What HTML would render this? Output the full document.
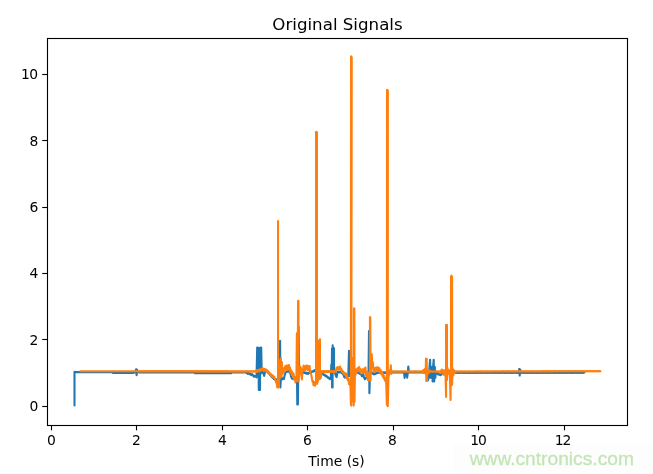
<!DOCTYPE html>
<html lang="en">
<head>
<meta charset="utf-8">
<title>Original Signals</title>
<style>
html,body{margin:0;padding:0;background:#fff;}
body{width:653px;height:474px;overflow:hidden;}
svg{display:block;}
text{font-family:"DejaVu Sans","Liberation Sans",sans-serif;fill:#000;}
.tick{font-size:13.89px;}
.title{font-size:16.67px;}
.wm{font-family:"Liberation Sans",Arial,sans-serif;font-size:19.2px;fill:#c3e5b6;stroke:#c3e5b6;stroke-width:0.3;}
.ax{stroke:#000;stroke-width:1.11;fill:none;}
.sig{fill:none;stroke-width:2.08;stroke-linejoin:round;stroke-linecap:round;}
</style>
</head>
<body>
<svg width="653" height="474" viewBox="0 0 653 474">
<rect x="0" y="0" width="653" height="474" fill="#ffffff"/>
<rect x="453.5" y="444.5" width="199.5" height="29.5" fill="#fdfdfd"/>

<g>
<path class="sig" stroke="#1f77b4" d="M74.50,405.40 L74.50,371.90 L75.25,372.00 L76.00,372.10 L76.60,372.10 L77.20,372.10 L77.80,372.10 L78.40,372.10 L79.00,372.10 L79.60,372.10 L80.20,372.10 L80.80,372.10 L81.40,372.10 L82.00,372.10 L82.60,372.10 L83.20,372.10 L83.80,372.10 L84.40,372.10 L85.00,372.10 L85.60,372.10 L86.20,372.10 L86.80,372.10 L87.40,372.10 L88.00,372.10 L88.60,372.10 L89.20,372.10 L89.80,372.10 L90.40,372.10 L91.00,372.10 L91.60,372.10 L92.20,372.10 L92.80,372.10 L93.40,372.10 L94.00,372.10 L94.60,372.10 L95.20,372.10 L95.80,372.10 L96.40,372.10 L97.00,372.10 L97.60,372.10 L98.20,372.10 L98.80,372.10 L99.40,372.10 L100.00,372.10 L100.60,372.10 L101.20,372.10 L101.80,372.10 L102.40,372.10 L103.00,372.10 L103.60,372.10 L104.20,372.10 L104.80,372.10 L105.40,372.10 L106.00,372.10 L106.60,372.10 L107.20,372.10 L107.80,372.10 L108.40,372.10 L109.00,372.10 L109.60,372.10 L110.20,372.10 L110.80,372.10 L111.40,372.10 L112.00,372.10 L112.50,372.50 L113.00,372.90 L113.61,372.90 L114.21,372.90 L114.82,372.90 L115.42,372.90 L116.03,372.90 L116.64,372.90 L117.24,372.90 L117.85,372.90 L118.45,372.90 L119.06,372.90 L119.67,372.90 L120.27,372.90 L120.88,372.90 L121.48,372.90 L122.09,372.90 L122.70,372.90 L123.30,372.90 L123.91,372.90 L124.52,372.90 L125.12,372.90 L125.73,372.90 L126.33,372.90 L126.94,372.90 L127.55,372.90 L128.15,372.90 L128.76,372.90 L129.36,372.90 L129.97,372.90 L130.58,372.90 L131.18,372.90 L131.79,372.90 L132.39,372.90 L133.00,372.90 L133.60,372.75 L134.20,372.60 L134.80,372.45 L135.40,372.30 L136.10,369.30 L136.60,375.20 L137.10,369.80 L137.70,372.20 L138.30,371.95 L138.90,372.45 L139.50,371.95 L140.10,372.45 L140.69,371.94 L141.29,372.44 L141.89,371.94 L142.49,372.44 L143.09,371.94 L143.69,372.44 L144.29,371.94 L144.89,372.44 L145.49,371.94 L146.09,372.44 L146.68,371.93 L147.28,372.43 L147.88,371.93 L148.48,372.43 L149.08,371.93 L149.68,372.43 L150.28,371.93 L150.88,372.43 L151.48,371.93 L152.07,372.42 L152.67,371.92 L153.27,372.42 L153.87,371.92 L154.47,372.42 L155.07,371.92 L155.67,372.42 L156.27,371.92 L156.87,372.42 L157.46,371.91 L158.06,372.41 L158.66,371.91 L159.26,372.41 L159.86,371.91 L160.46,372.41 L161.06,371.91 L161.66,372.41 L162.26,371.91 L162.86,372.41 L163.45,371.90 L164.05,372.40 L164.65,371.90 L165.25,372.40 L165.85,371.90 L166.45,372.40 L167.05,371.90 L167.65,372.40 L168.25,371.90 L168.84,372.39 L169.44,371.89 L170.04,372.39 L170.64,371.89 L171.24,372.39 L171.84,371.89 L172.44,372.39 L173.04,371.89 L173.64,372.39 L174.24,371.89 L174.83,372.38 L175.43,371.88 L176.03,372.38 L176.63,371.88 L177.23,372.38 L177.83,371.88 L178.43,372.38 L179.03,371.88 L179.63,372.38 L180.22,371.87 L180.82,372.37 L181.42,371.87 L182.02,372.37 L182.62,371.87 L183.22,372.37 L183.82,371.87 L184.42,372.37 L185.02,371.87 L185.61,372.36 L186.21,371.86 L186.81,372.36 L187.41,371.86 L188.01,372.36 L188.61,371.86 L189.21,372.36 L189.81,371.86 L190.41,372.36 L191.01,371.86 L191.60,372.35 L192.20,371.85 L192.80,372.35 L193.40,371.85 L194.00,372.35 L194.50,372.30 L195.00,373.25 L195.60,372.75 L196.20,373.25 L196.80,372.75 L197.40,373.25 L198.00,372.75 L198.60,373.25 L199.20,372.75 L199.80,373.25 L200.40,372.75 L201.00,373.25 L201.60,372.75 L202.20,373.25 L202.80,372.75 L203.40,373.25 L204.00,372.75 L204.60,373.25 L205.20,372.75 L205.80,373.25 L206.40,372.75 L207.00,373.25 L207.60,372.75 L208.20,373.25 L208.80,372.75 L209.40,373.25 L210.00,372.75 L210.60,373.25 L211.20,372.75 L211.80,373.25 L212.40,372.75 L213.00,373.25 L213.60,372.75 L214.20,373.25 L214.80,372.75 L215.40,373.25 L216.00,372.75 L216.60,373.25 L217.20,372.75 L217.80,373.25 L218.40,372.75 L219.00,373.25 L219.60,372.75 L220.20,373.25 L220.80,372.75 L221.40,373.25 L222.00,372.75 L222.60,373.25 L223.20,372.75 L223.80,373.25 L224.40,372.75 L225.00,373.25 L225.60,372.75 L226.20,373.25 L226.80,372.75 L227.40,373.25 L228.00,372.75 L228.60,373.25 L229.20,372.75 L229.80,373.25 L230.40,372.75 L231.00,373.25 L231.50,372.35 L232.00,372.45 L232.60,371.95 L233.20,372.45 L233.80,371.95 L234.40,372.45 L235.00,371.95 L235.60,372.45 L236.20,371.95 L236.80,372.45 L237.40,371.95 L238.00,372.45 L238.60,371.95 L239.20,372.45 L239.80,371.95 L240.40,372.45 L241.00,371.95 L241.60,372.45 L242.20,371.95 L242.80,372.45 L243.40,371.95 L244.00,372.45 L244.67,371.98 L245.33,372.62 L246.00,371.95 L246.67,373.08 L247.33,372.82 L248.00,373.95 L248.50,372.95 L249.00,373.35 L249.67,373.32 L250.33,374.68 L251.00,374.65 L251.50,375.05 L252.00,374.05 L252.67,375.42 L253.33,375.38 L254.00,376.75 L254.50,375.85 L255.00,376.35 L255.75,376.35 L256.50,377.40 L257.20,347.50 L257.70,347.50 L258.00,372.00 L258.40,348.00 L258.80,390.00 L259.10,348.00 L259.40,390.00 L259.70,348.00 L260.00,390.00 L260.30,348.00 L260.60,374.00 L260.80,347.50 L261.20,347.50 L261.70,372.00 L262.15,372.35 L262.60,371.65 L263.13,373.52 L263.67,373.98 L264.20,375.85 L264.75,372.90 L265.30,371.35 L265.90,370.65 L266.50,371.35 L267.12,371.22 L267.75,372.50 L268.38,372.38 L269.00,373.65 L269.60,373.69 L270.20,375.13 L270.80,375.17 L271.40,376.61 L272.00,376.65 L272.62,377.90 L273.25,377.75 L273.88,379.00 L274.50,378.85 L275.17,379.82 L275.83,379.38 L276.50,380.35 L277.06,379.25 L277.62,379.55 L278.18,378.45 L278.74,378.75 L279.30,378.00 L280.10,340.80 L280.40,387.50 L281.00,377.00 L281.75,377.65 L282.50,379.35 L283.25,378.40 L284.00,378.85 L284.50,375.90 L285.00,374.35 L285.50,372.55 L286.00,372.15 L286.60,371.29 L287.20,371.83 L287.80,370.97 L288.40,371.51 L289.00,370.65 L289.75,372.85 L290.50,373.65 L291.00,376.35 L291.50,377.65 L292.15,378.70 L292.80,378.35 L293.37,379.15 L293.93,378.55 L294.50,379.35 L295.12,378.90 L295.75,379.85 L296.38,379.40 L297.00,380.00 L297.30,404.50 L297.60,385.00 L297.90,404.50 L298.30,372.00 L298.60,327.00 L299.20,372.00 L299.80,372.41 L300.40,371.77 L301.00,372.54 L301.60,371.90 L302.20,372.66 L302.80,372.02 L303.40,372.79 L304.00,372.15 L304.57,372.99 L305.14,372.44 L305.71,373.28 L306.29,372.72 L306.86,373.56 L307.43,373.01 L308.00,373.85 L308.60,372.85 L309.20,373.25 L309.80,372.25 L310.40,372.65 L311.00,371.65 L311.60,372.15 L312.20,371.25 L312.80,371.75 L313.40,370.85 L314.00,371.35 L314.50,370.15 L315.00,370.35 L315.50,370.65 L316.00,372.35 L316.60,371.80 L317.20,372.65 L317.80,372.10 L318.40,372.95 L319.00,372.40 L319.60,373.25 L320.20,372.70 L320.80,373.55 L321.40,373.00 L322.00,373.85 L322.57,373.51 L323.14,374.56 L323.71,374.22 L324.29,375.28 L324.86,374.94 L325.43,375.99 L326.00,375.65 L326.57,376.75 L327.14,376.45 L327.71,377.55 L328.29,377.25 L328.86,378.35 L329.43,378.05 L330.00,379.15 L330.80,379.00 L331.30,364.50 L331.80,372.00 L332.00,348.50 L332.10,387.50 L332.40,372.00 L332.60,387.50 L332.70,345.20 L333.00,372.00 L333.40,348.30 L333.70,372.00 L334.00,348.30 L334.10,372.00 L335.00,372.65 L335.75,375.60 L336.50,377.15 L337.00,375.10 L337.50,371.65 L338.08,372.35 L338.67,371.65 L339.25,372.35 L339.83,371.65 L340.42,372.35 L341.00,371.65 L341.67,373.02 L342.33,372.98 L343.00,374.35 L343.60,374.98 L344.20,377.02 L344.80,377.65 L345.40,376.85 L346.00,374.65 L346.57,375.60 L347.15,375.15 L347.73,376.10 L348.30,376.00 L349.00,350.80 L349.60,376.00 L350.20,374.65 L350.80,374.35 L351.40,372.65 L352.00,372.35 L352.57,371.65 L353.14,372.35 L353.71,371.65 L354.29,372.35 L354.86,371.65 L355.43,372.35 L356.00,371.65 L356.67,372.52 L357.33,371.98 L358.00,372.85 L358.62,372.52 L359.25,373.60 L359.88,373.27 L360.50,374.35 L361.25,374.65 L362.00,376.35 L362.50,374.15 L363.00,373.35 L363.50,374.90 L364.00,377.85 L364.50,377.90 L365.00,379.35 L365.67,377.98 L366.33,378.02 L367.00,376.65 L367.75,376.35 L368.50,375.00 L369.00,331.00 L369.40,393.30 L370.00,372.00 L370.67,371.98 L371.33,373.02 L372.00,372.65 L372.67,373.68 L373.33,373.32 L374.00,374.35 L374.67,373.48 L375.33,374.02 L376.00,373.15 L376.67,373.52 L377.33,372.48 L378.00,372.85 L378.60,372.15 L379.20,372.85 L379.80,372.15 L380.40,372.85 L381.00,372.15 L381.56,372.89 L382.12,372.22 L382.69,372.96 L383.25,372.30 L383.81,373.04 L384.38,372.38 L384.94,373.11 L385.50,372.45 L386.06,373.06 L386.62,372.27 L387.19,372.89 L387.75,372.10 L388.31,372.71 L388.88,371.93 L389.44,372.54 L390.00,371.75 L390.61,372.45 L391.22,371.75 L391.83,372.45 L392.43,371.75 L393.04,372.45 L393.65,371.75 L394.26,372.45 L394.87,371.75 L395.48,372.45 L396.09,371.75 L396.70,372.45 L397.30,371.75 L397.91,372.45 L398.52,371.75 L399.13,372.45 L399.74,371.75 L400.35,372.45 L400.96,371.75 L401.57,372.45 L402.17,371.75 L402.78,372.45 L403.39,371.75 L404.00,372.45 L404.60,377.85 L405.30,372.85 L405.90,372.15 L406.50,372.85 L407.20,377.65 L407.80,372.35 L408.30,366.45 L409.00,372.45 L409.61,371.75 L410.22,372.45 L410.83,371.75 L411.43,372.45 L412.04,371.75 L412.65,372.45 L413.26,371.75 L413.87,372.45 L414.48,371.75 L415.09,372.45 L415.70,371.75 L416.30,372.45 L416.91,371.75 L417.52,372.45 L418.13,371.75 L418.74,372.45 L419.35,371.75 L419.96,372.45 L420.57,371.75 L421.17,372.45 L421.78,371.75 L422.39,372.45 L423.00,371.75 L423.57,372.51 L424.14,371.86 L424.71,372.62 L425.29,371.98 L425.86,372.74 L426.43,372.09 L427.00,372.50 L427.80,380.50 L428.50,378.35 L429.00,377.80 L429.50,366.80 L430.10,359.70 L430.60,377.80 L431.10,366.80 L431.60,377.80 L432.10,366.80 L432.60,381.50 L433.10,366.80 L433.70,359.70 L434.20,381.50 L434.80,366.80 L435.30,377.80 L436.00,371.65 L436.67,373.02 L437.33,372.98 L438.00,374.35 L438.60,373.85 L439.20,374.75 L439.80,374.25 L440.40,375.15 L441.00,374.65 L441.50,374.35 L442.00,372.65 L442.61,373.33 L443.22,372.61 L443.83,373.28 L444.43,372.56 L445.04,373.24 L445.65,372.52 L446.26,373.20 L446.87,372.48 L447.48,373.15 L448.09,372.43 L448.70,373.11 L449.30,372.39 L449.91,373.07 L450.52,372.35 L451.13,373.02 L451.74,372.30 L452.35,372.98 L452.96,372.26 L453.57,372.94 L454.17,372.22 L454.78,372.89 L455.39,372.17 L456.00,372.85 L456.60,372.15 L457.20,372.85 L457.81,372.15 L458.41,372.85 L459.01,372.15 L459.61,372.85 L460.21,372.15 L460.82,372.85 L461.42,372.15 L462.02,372.85 L462.62,372.15 L463.22,372.85 L463.82,372.15 L464.43,372.85 L465.03,372.15 L465.63,372.85 L466.23,372.15 L466.83,372.85 L467.44,372.15 L468.04,372.85 L468.64,372.15 L469.24,372.85 L469.84,372.15 L470.45,372.85 L471.05,372.15 L471.65,372.85 L472.25,372.15 L472.85,372.85 L473.46,372.15 L474.06,372.85 L474.66,372.15 L475.26,372.85 L475.86,372.15 L476.47,372.85 L477.07,372.15 L477.67,372.85 L478.27,372.15 L478.87,372.85 L479.48,372.15 L480.08,372.85 L480.68,372.15 L481.28,372.85 L481.88,372.15 L482.48,372.85 L483.09,372.15 L483.69,372.85 L484.29,372.15 L484.89,372.85 L485.49,372.15 L486.10,372.85 L486.70,372.15 L487.30,372.85 L487.90,372.15 L488.50,372.85 L489.11,372.15 L489.71,372.85 L490.31,372.15 L490.91,372.85 L491.51,372.15 L492.12,372.85 L492.72,372.15 L493.32,372.85 L493.92,372.15 L494.52,372.85 L495.12,372.15 L495.73,372.85 L496.33,372.15 L496.93,372.85 L497.53,372.15 L498.13,372.85 L498.74,372.15 L499.34,372.85 L499.94,372.15 L500.54,372.85 L501.14,372.15 L501.75,372.85 L502.35,372.15 L502.95,372.85 L503.55,372.15 L504.15,372.85 L504.76,372.15 L505.36,372.85 L505.96,372.15 L506.56,372.85 L507.16,372.15 L507.77,372.85 L508.37,372.15 L508.97,372.85 L509.57,372.15 L510.17,372.85 L510.78,372.15 L511.38,372.85 L511.98,372.15 L512.58,372.85 L513.18,372.15 L513.78,372.85 L514.39,372.15 L514.99,372.85 L515.59,372.15 L516.19,372.85 L516.79,372.15 L517.40,372.85 L518.00,372.15 L518.60,372.85 L519.20,368.95 L519.70,375.55 L520.20,369.45 L520.70,372.85 L521.30,372.15 L521.90,372.85 L522.50,372.15 L523.10,372.85 L523.70,372.15 L524.31,372.85 L524.91,372.15 L525.51,372.85 L526.11,372.15 L526.71,372.85 L527.31,372.15 L527.91,372.85 L528.51,372.15 L529.11,372.85 L529.71,372.15 L530.32,372.85 L530.92,372.15 L531.52,372.85 L532.12,372.15 L532.72,372.85 L533.32,372.15 L533.92,372.85 L534.52,372.15 L535.12,372.85 L535.72,372.15 L536.32,372.85 L536.93,372.15 L537.53,372.85 L538.13,372.15 L538.73,372.85 L539.33,372.15 L539.93,372.85 L540.53,372.15 L541.13,372.85 L541.73,372.15 L542.33,372.85 L542.93,372.15 L543.54,372.85 L544.14,372.15 L544.74,372.85 L545.34,372.15 L545.94,372.85 L546.54,372.15 L547.14,372.85 L547.74,372.15 L548.34,372.85 L548.94,372.15 L549.55,372.85 L550.15,372.15 L550.75,372.85 L551.35,372.15 L551.95,372.85 L552.55,372.15 L553.15,372.85 L553.75,372.15 L554.35,372.85 L554.95,372.15 L555.55,372.85 L556.16,372.15 L556.76,372.85 L557.36,372.15 L557.96,372.85 L558.56,372.15 L559.16,372.85 L559.76,372.15 L560.36,372.85 L560.96,372.15 L561.56,372.85 L562.17,372.15 L562.77,372.85 L563.37,372.15 L563.97,372.85 L564.57,372.15 L565.17,372.85 L565.77,372.15 L566.37,372.85 L566.97,372.15 L567.57,372.85 L568.17,372.15 L568.78,372.85 L569.38,372.15 L569.98,372.85 L570.58,372.15 L571.18,372.85 L571.78,372.15 L572.38,372.85 L572.98,372.15 L573.58,372.85 L574.18,372.15 L574.78,372.85 L575.39,372.15 L575.99,372.85 L576.59,372.15 L577.19,372.85 L577.79,372.15 L578.39,372.85 L578.99,372.15 L579.59,372.85 L580.19,372.15 L580.79,372.85 L581.40,372.15 L582.00,372.85 L582.60,372.15 L583.20,372.85 L583.80,372.15 L584.40,372.50"/>
<path class="sig" stroke="#ff7f0e" d="M80.30,371.30 L80.90,371.30 L81.50,371.30 L82.10,371.30 L82.70,371.30 L83.30,371.30 L83.90,371.30 L84.50,371.30 L85.10,371.30 L85.70,371.30 L86.30,371.30 L86.90,371.30 L87.50,371.30 L88.10,371.30 L88.70,371.30 L89.31,371.31 L89.91,371.31 L90.51,371.31 L91.11,371.31 L91.71,371.31 L92.31,371.31 L92.91,371.31 L93.51,371.31 L94.11,371.31 L94.71,371.31 L95.31,371.31 L95.91,371.31 L96.51,371.31 L97.11,371.31 L97.71,371.31 L98.31,371.31 L98.91,371.31 L99.51,371.31 L100.11,371.31 L100.71,371.31 L101.31,371.31 L101.91,371.31 L102.51,371.31 L103.11,371.31 L103.71,371.31 L104.31,371.31 L104.91,371.31 L105.51,371.31 L106.11,371.31 L106.72,371.32 L107.32,371.32 L107.92,371.32 L108.52,371.32 L109.12,371.32 L109.72,371.32 L110.32,371.32 L110.92,371.32 L111.52,371.32 L112.12,371.32 L112.72,371.32 L113.32,371.32 L113.92,371.32 L114.52,371.32 L115.12,371.32 L115.72,371.32 L116.32,371.32 L116.92,371.32 L117.52,371.32 L118.12,371.32 L118.72,371.32 L119.32,371.32 L119.92,371.32 L120.52,371.32 L121.12,371.32 L121.72,371.32 L122.32,371.32 L122.92,371.32 L123.52,371.32 L124.13,371.33 L124.73,371.33 L125.33,371.33 L125.93,371.33 L126.53,371.33 L127.13,371.33 L127.73,371.33 L128.33,371.33 L128.93,371.33 L129.53,371.33 L130.13,371.33 L130.73,371.33 L131.33,371.33 L131.93,371.33 L132.53,371.33 L133.13,371.33 L133.73,371.33 L134.33,371.33 L134.93,371.33 L135.53,371.33 L136.13,371.33 L136.73,371.33 L137.33,371.33 L137.93,371.33 L138.53,371.53 L139.13,371.13 L139.73,371.53 L140.33,371.13 L140.93,371.53 L141.54,371.14 L142.14,371.54 L142.74,371.14 L143.34,371.54 L143.94,371.14 L144.54,371.54 L145.14,371.14 L145.74,371.54 L146.34,371.14 L146.94,371.54 L147.54,371.14 L148.14,371.54 L148.74,371.14 L149.34,371.54 L149.94,371.14 L150.54,371.54 L151.14,371.14 L151.74,371.54 L152.34,371.14 L152.94,371.54 L153.54,371.14 L154.14,371.54 L154.74,371.14 L155.34,371.54 L155.94,371.14 L156.54,371.54 L157.14,371.14 L157.74,371.54 L158.34,371.14 L158.95,371.55 L159.55,371.15 L160.15,371.55 L160.75,371.15 L161.35,371.55 L161.95,371.15 L162.55,371.55 L163.15,371.15 L163.75,371.55 L164.35,371.15 L164.95,371.55 L165.55,371.15 L166.15,371.55 L166.75,371.15 L167.35,371.55 L167.95,371.15 L168.55,371.55 L169.15,371.15 L169.75,371.55 L170.35,371.15 L170.95,371.55 L171.55,371.15 L172.15,371.55 L172.75,371.15 L173.35,371.55 L173.95,371.15 L174.55,371.55 L175.15,371.15 L175.75,371.55 L176.35,371.15 L176.96,371.56 L177.56,371.16 L178.16,371.56 L178.76,371.16 L179.36,371.56 L179.96,371.16 L180.56,371.56 L181.16,371.16 L181.76,371.56 L182.36,371.16 L182.96,371.56 L183.56,371.16 L184.16,371.56 L184.76,371.16 L185.36,371.56 L185.96,371.16 L186.56,371.56 L187.16,371.16 L187.76,371.56 L188.36,371.16 L188.96,371.56 L189.56,371.16 L190.16,371.56 L190.76,371.16 L191.36,371.56 L191.96,371.16 L192.56,371.56 L193.16,371.16 L193.76,371.56 L194.37,371.17 L194.97,371.57 L195.57,371.17 L196.17,371.57 L196.77,371.17 L197.37,371.57 L197.97,371.17 L198.57,371.57 L199.17,371.17 L199.77,371.57 L200.37,371.17 L200.97,371.57 L201.57,371.17 L202.17,371.57 L202.77,371.17 L203.37,371.57 L203.97,371.17 L204.57,371.57 L205.17,371.17 L205.77,371.57 L206.37,371.17 L206.97,371.57 L207.57,371.17 L208.17,371.57 L208.77,371.17 L209.37,371.57 L209.97,371.17 L210.57,371.57 L211.17,371.17 L211.78,371.58 L212.38,371.18 L212.98,371.58 L213.58,371.18 L214.18,371.58 L214.78,371.18 L215.38,371.58 L215.98,371.18 L216.58,371.58 L217.18,371.18 L217.78,371.58 L218.38,371.18 L218.98,371.58 L219.58,371.18 L220.18,371.58 L220.78,371.18 L221.38,371.58 L221.98,371.18 L222.58,371.58 L223.18,371.18 L223.78,371.58 L224.38,371.18 L224.98,371.58 L225.58,371.18 L226.18,371.58 L226.78,371.18 L227.38,371.58 L227.98,371.18 L228.58,371.58 L229.19,371.19 L229.79,371.59 L230.39,371.19 L230.99,371.59 L231.59,371.19 L232.19,371.59 L232.79,371.19 L233.39,371.59 L233.99,371.19 L234.59,371.59 L235.19,371.19 L235.79,371.59 L236.39,371.19 L236.99,371.59 L237.59,371.19 L238.19,371.59 L238.79,371.19 L239.39,371.59 L239.99,371.19 L240.59,371.59 L241.19,371.19 L241.79,371.59 L242.39,371.19 L242.99,371.59 L243.59,371.19 L244.19,371.59 L244.79,371.19 L245.39,371.59 L245.99,371.19 L246.60,371.60 L247.20,371.20 L247.80,371.60 L248.40,371.20 L249.00,371.60 L249.60,371.20 L250.20,371.60 L250.80,371.20 L251.40,371.60 L252.00,371.20 L252.60,371.60 L253.20,371.20 L253.80,371.60 L254.40,371.20 L255.00,371.60 L255.57,371.07 L256.14,371.94 L256.71,370.21 L257.29,371.69 L257.86,369.96 L258.43,371.43 L259.00,369.70 L259.57,371.09 L260.14,369.27 L260.71,370.66 L261.29,368.84 L261.86,370.23 L262.43,368.41 L263.00,369.80 L263.60,368.46 L264.20,370.32 L264.80,368.98 L265.40,370.84 L266.00,369.50 L266.60,371.60 L267.20,370.50 L267.80,372.60 L268.40,371.50 L268.98,373.68 L269.57,372.67 L270.15,374.85 L270.73,373.83 L271.32,376.02 L271.90,375.00 L272.50,377.05 L273.10,375.90 L273.70,377.95 L274.30,376.80 L274.87,379.40 L275.43,378.80 L276.00,382.30 L276.53,381.20 L277.07,386.90 L277.60,385.80 L278.05,386.00 L278.05,221.10 L278.10,387.70 L278.50,380.00 L279.00,365.00 L279.60,379.00 L280.30,360.00 L280.90,358.00 L281.30,377.00 L281.90,362.00 L282.40,374.00 L283.00,373.00 L283.75,368.25 L284.50,371.50 L285.20,366.25 L285.90,369.00 L286.45,365.50 L287.00,370.00 L287.63,365.67 L288.27,369.33 L288.90,365.00 L289.45,370.25 L290.00,367.50 L290.60,372.90 L291.20,370.30 L291.80,375.18 L292.40,372.05 L293.00,376.93 L293.60,373.80 L294.20,379.37 L294.80,376.93 L295.40,382.50 L295.90,378.75 L296.40,381.00 L296.85,333.40 L297.20,381.00 L297.80,372.00 L298.04,300.70 L298.46,300.90 L298.60,381.50 L299.30,375.00 L300.20,366.50 L301.00,368.00 L301.90,379.40 L302.60,369.00 L303.10,370.25 L303.60,365.50 L304.30,370.00 L305.00,366.50 L305.53,370.00 L306.07,365.50 L306.60,369.00 L307.30,365.65 L308.00,370.30 L308.53,366.20 L309.07,370.10 L309.60,366.00 L310.30,372.75 L311.00,373.50 L312.50,381.70 L313.00,380.90 L313.50,385.20 L314.25,382.05 L315.00,385.70 L315.52,381.80 L316.04,383.00 L316.04,131.90 L316.50,133.80 L316.96,132.30 L316.96,384.00 L317.80,381.30 L318.60,378.00 L319.04,340.20 L319.50,341.40 L319.96,339.20 L319.96,379.00 L320.80,377.70 L321.50,372.00 L322.10,371.00 L322.71,372.00 L323.31,371.00 L323.92,372.00 L324.52,371.00 L325.13,372.00 L325.73,371.00 L326.33,372.00 L326.94,371.00 L327.54,372.00 L328.15,371.00 L328.75,372.00 L329.36,371.00 L329.96,372.00 L330.57,371.00 L331.17,372.00 L331.77,371.00 L332.38,372.00 L332.98,371.00 L333.59,372.00 L334.19,371.00 L334.80,372.00 L335.40,371.00 L335.97,371.20 L336.53,367.90 L337.10,368.60 L337.80,367.05 L338.50,369.50 L339.03,367.20 L339.57,368.90 L340.10,366.60 L340.70,369.62 L341.30,368.65 L341.90,371.68 L342.50,370.70 L343.08,373.28 L343.66,371.86 L344.24,374.44 L344.82,373.02 L345.40,375.60 L346.00,373.50 L346.60,378.40 L347.20,375.30 L347.80,380.20 L348.40,378.13 L349.00,384.07 L349.60,382.00 L350.50,387.00 L350.90,405.00 L351.04,56.20 L351.76,57.30 L351.30,405.60 L351.70,360.00 L352.10,401.00 L352.50,358.00 L352.90,401.00 L353.30,360.00 L353.70,405.60 L353.95,308.20 L354.35,308.60 L354.50,402.00 L354.90,376.00 L355.45,375.20 L356.00,369.30 L356.75,372.20 L357.50,368.30 L358.25,371.05 L359.00,367.00 L359.60,371.30 L360.20,368.80 L360.80,373.10 L361.40,370.60 L361.95,373.35 L362.50,369.30 L363.00,372.95 L363.50,369.80 L364.00,372.45 L364.50,368.30 L365.00,371.35 L365.50,367.60 L366.00,375.70 L366.60,376.30 L367.20,372.00 L367.80,380.00 L368.40,374.70 L369.00,380.50 L369.50,372.00 L369.90,380.00 L369.95,317.10 L370.30,317.30 L370.60,380.00 L371.00,366.00 L371.30,358.30 L371.80,354.40 L372.30,368.00 L373.00,362.60 L373.50,372.00 L374.20,371.70 L374.85,368.05 L375.50,371.20 L376.05,367.60 L376.60,370.80 L377.15,367.20 L377.70,370.40 L378.30,367.43 L378.90,371.27 L379.50,368.30 L380.10,372.53 L380.70,369.97 L381.30,374.20 L381.88,371.80 L382.45,376.20 L383.03,373.80 L383.60,378.20 L384.20,375.97 L384.80,380.53 L385.40,378.30 L386.20,383.00 L386.90,405.00 L387.04,89.70 L387.86,90.60 L387.80,406.20 L388.50,376.00 L389.00,375.70 L389.50,370.30 L390.30,372.70 L390.80,365.30 L391.30,374.00 L392.00,371.25 L392.60,371.75 L393.19,371.25 L393.79,371.75 L394.38,371.25 L394.98,371.75 L395.58,371.25 L396.17,371.75 L396.77,371.25 L397.37,371.75 L397.96,371.25 L398.56,371.75 L399.15,371.25 L399.75,371.75 L400.35,371.25 L400.94,371.75 L401.54,371.25 L402.13,371.75 L402.73,371.25 L403.33,371.75 L403.92,371.25 L404.52,371.75 L405.12,371.25 L405.71,371.75 L406.31,371.25 L406.90,371.75 L407.50,371.25 L408.10,371.75 L408.69,371.25 L409.29,371.75 L409.88,371.25 L410.48,371.75 L411.08,371.25 L411.67,371.75 L412.27,371.25 L412.87,371.75 L413.46,371.25 L414.06,371.75 L414.65,371.25 L415.25,371.75 L415.85,371.25 L416.44,371.75 L417.04,371.25 L417.63,371.75 L418.23,371.25 L418.83,371.75 L419.42,371.25 L420.02,371.75 L420.62,371.25 L421.21,371.75 L421.81,371.25 L422.40,372.80 L423.00,370.20 L423.50,372.55 L424.00,369.70 L424.50,371.80 L425.00,368.70 L425.60,373.50 L426.00,358.50 L426.30,381.00 L426.70,358.80 L427.00,381.00 L427.40,369.50 L428.00,373.80 L428.50,370.70 L429.00,372.80 L429.60,370.20 L430.20,371.75 L430.80,371.25 L431.40,371.75 L432.00,371.25 L432.60,371.75 L433.20,371.25 L433.80,371.75 L434.40,371.25 L435.00,371.75 L435.60,371.25 L436.20,371.75 L436.80,371.25 L437.40,371.75 L438.00,371.25 L438.60,371.75 L439.20,371.25 L439.80,371.75 L440.40,371.25 L441.00,372.80 L441.75,369.45 L442.50,371.30 L443.00,370.45 L443.50,374.80 L444.00,370.20 L444.50,370.80 L445.00,370.45 L445.50,374.00 L446.10,397.00 L446.04,324.80 L446.50,326.20 L446.96,325.00 L447.00,380.00 L447.50,368.00 L448.20,373.70 L449.00,370.30 L449.80,374.50 L450.60,400.00 L450.70,378.00 L451.04,368.00 L451.04,276.80 L451.55,275.70 L452.06,277.20 L452.10,385.00 L452.70,368.50 L453.30,375.30 L454.00,370.20 L454.60,372.80 L455.20,371.35 L455.80,371.65 L456.40,371.35 L457.00,371.64 L457.60,371.34 L458.20,371.64 L458.80,371.34 L459.40,371.64 L460.00,371.34 L460.60,371.64 L461.20,371.34 L461.81,371.63 L462.41,371.33 L463.01,371.63 L463.61,371.33 L464.21,371.63 L464.81,371.33 L465.41,371.63 L466.01,371.33 L466.61,371.62 L467.21,371.32 L467.81,371.62 L468.41,371.32 L469.01,371.62 L469.61,371.32 L470.21,371.62 L470.81,371.32 L471.41,371.61 L472.01,371.31 L472.61,371.61 L473.21,371.31 L473.81,371.61 L474.41,371.31 L475.01,371.61 L475.61,371.31 L476.22,371.60 L476.82,371.30 L477.42,371.60 L478.02,371.30 L478.62,371.60 L479.22,371.30 L479.82,371.60 L480.42,371.30 L481.02,371.59 L481.62,371.29 L482.22,371.59 L482.82,371.29 L483.42,371.59 L484.02,371.29 L484.62,371.59 L485.22,371.29 L485.82,371.58 L486.42,371.28 L487.02,371.58 L487.62,371.28 L488.22,371.58 L488.82,371.28 L489.42,371.58 L490.02,371.28 L490.62,371.57 L491.23,371.27 L491.83,371.57 L492.43,371.27 L493.03,371.57 L493.63,371.27 L494.23,371.57 L494.83,371.27 L495.43,371.57 L496.03,371.26 L496.63,371.56 L497.23,371.26 L497.83,371.56 L498.43,371.26 L499.03,371.56 L499.63,371.26 L500.23,371.56 L500.83,371.25 L501.43,371.55 L502.03,371.25 L502.63,371.55 L503.23,371.25 L503.83,371.55 L504.43,371.25 L505.03,371.55 L505.64,371.24 L506.24,371.54 L506.84,371.24 L507.44,371.54 L508.04,371.24 L508.64,371.54 L509.24,371.24 L509.84,371.54 L510.44,371.23 L511.04,371.53 L511.64,371.23 L512.24,371.53 L512.84,371.23 L513.44,371.53 L514.04,371.23 L514.64,371.53 L515.24,371.22 L515.84,371.52 L516.44,371.22 L517.04,371.52 L517.64,371.22 L518.24,371.52 L518.84,371.22 L519.44,371.52 L520.05,371.21 L520.65,371.51 L521.25,371.21 L521.85,371.51 L522.45,371.21 L523.05,371.51 L523.65,371.21 L524.25,371.51 L524.85,371.20 L525.45,371.50 L526.05,371.20 L526.65,371.50 L527.25,371.20 L527.85,371.50 L528.45,371.20 L529.05,371.50 L529.65,371.20 L530.25,371.49 L530.85,371.19 L531.45,371.49 L532.05,371.19 L532.65,371.49 L533.25,371.19 L533.85,371.49 L534.45,371.19 L535.06,371.48 L535.66,371.18 L536.26,371.48 L536.86,371.18 L537.46,371.48 L538.06,371.18 L538.66,371.48 L539.26,371.18 L539.86,371.47 L540.46,371.17 L541.06,371.47 L541.66,371.17 L542.26,371.47 L542.86,371.17 L543.46,371.47 L544.06,371.17 L544.66,371.46 L545.26,371.16 L545.86,371.46 L546.46,371.16 L547.06,371.46 L547.66,371.16 L548.26,371.46 L548.86,371.16 L549.47,371.45 L550.07,371.15 L550.67,371.45 L551.27,371.15 L551.87,371.45 L552.47,371.15 L553.07,371.45 L553.67,371.15 L554.27,371.44 L554.87,371.14 L555.47,371.44 L556.07,371.14 L556.67,371.44 L557.27,371.14 L557.87,371.44 L558.47,371.14 L559.07,371.43 L559.67,371.13 L560.27,371.43 L560.87,371.13 L561.47,371.43 L562.07,371.13 L562.67,371.43 L563.27,371.13 L563.88,371.42 L564.48,371.12 L565.08,371.42 L565.68,371.12 L566.28,371.42 L566.88,371.12 L567.48,371.42 L568.08,371.12 L568.68,371.42 L569.28,371.11 L569.88,371.41 L570.48,371.11 L571.08,371.41 L571.68,371.11 L572.28,371.41 L572.88,371.11 L573.48,371.41 L574.08,371.10 L574.68,371.40 L575.28,371.10 L575.88,371.40 L576.48,371.10 L577.08,371.40 L577.68,371.10 L578.28,371.40 L578.89,371.09 L579.49,371.39 L580.09,371.09 L580.69,371.39 L581.29,371.09 L581.89,371.39 L582.49,371.09 L583.09,371.39 L583.69,371.08 L584.29,371.38 L584.89,371.08 L585.49,371.38 L586.09,371.08 L586.69,371.38 L587.29,371.08 L587.89,371.38 L588.49,371.07 L589.09,371.37 L589.69,371.07 L590.29,371.37 L590.89,371.07 L591.49,371.37 L592.09,371.07 L592.69,371.37 L593.30,371.06 L593.90,371.36 L594.50,371.06 L595.10,371.36 L595.70,371.06 L596.30,371.36 L596.90,371.06 L597.50,371.36 L598.10,371.05 L598.70,371.35 L599.30,371.05 L599.90,371.35 L600.50,371.20"/>
</g>
<rect class="ax" x="47.5" y="38.5" width="580.0" height="387.0" stroke-linejoin="miter"/>
<line class="ax" x1="51.50" y1="425.5" x2="51.50" y2="430.36"/>
<text class="tick" x="51.50" y="444.7" text-anchor="middle">0</text>
<line class="ax" x1="136.50" y1="425.5" x2="136.50" y2="430.36"/>
<text class="tick" x="136.50" y="444.7" text-anchor="middle">2</text>
<line class="ax" x1="222.50" y1="425.5" x2="222.50" y2="430.36"/>
<text class="tick" x="222.50" y="444.7" text-anchor="middle">4</text>
<line class="ax" x1="307.50" y1="425.5" x2="307.50" y2="430.36"/>
<text class="tick" x="307.50" y="444.7" text-anchor="middle">6</text>
<line class="ax" x1="393.50" y1="425.5" x2="393.50" y2="430.36"/>
<text class="tick" x="392.50" y="444.7" text-anchor="middle">8</text>
<line class="ax" x1="478.50" y1="425.5" x2="478.50" y2="430.36"/>
<text class="tick" x="470.30" y="444.7" letter-spacing="-1.1">10</text>
<line class="ax" x1="564.50" y1="425.5" x2="564.50" y2="430.36"/>
<text class="tick" x="554.80" y="444.7" letter-spacing="-1.1">12</text>
<line class="ax" x1="47.5" y1="406.50" x2="42.20" y2="406.50"/>
<text class="tick" x="38.4" y="411.20" text-anchor="end">0</text>
<line class="ax" x1="47.5" y1="339.50" x2="42.20" y2="339.50"/>
<text class="tick" x="38.4" y="344.80" text-anchor="end">2</text>
<line class="ax" x1="47.5" y1="273.50" x2="42.20" y2="273.50"/>
<text class="tick" x="38.4" y="278.40" text-anchor="end">4</text>
<line class="ax" x1="47.5" y1="207.50" x2="42.20" y2="207.50"/>
<text class="tick" x="38.4" y="212.00" text-anchor="end">6</text>
<line class="ax" x1="47.5" y1="140.50" x2="42.20" y2="140.50"/>
<text class="tick" x="38.4" y="145.60" text-anchor="end">8</text>
<line class="ax" x1="47.5" y1="74.50" x2="42.20" y2="74.50"/>
<text class="tick" x="21.0" y="79.20" letter-spacing="-0.6">10</text>
<text class="title" x="337.50" y="30.1" text-anchor="middle">Original Signals</text>
<text class="tick" x="336.50" y="465.6" text-anchor="middle">Time (s)</text>
<text class="wm" x="469.7" y="464.9">www.cntronics.com</text>
</svg>
</body>
</html>
